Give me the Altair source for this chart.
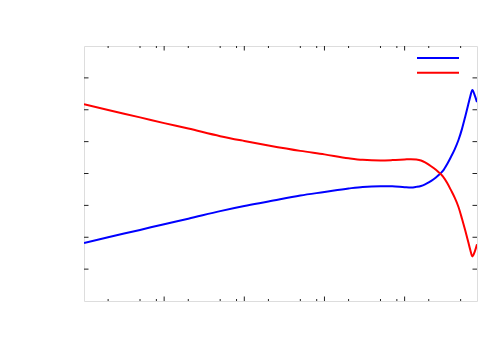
import altair as alt
import pandas as pd

# x positions (log axis) and the two series
x_vals = [1, 2, 5, 10, 20, 50, 100, 200, 500, 1000, 2000, 3000, 5000, 7000,
          10000, 12000, 14000, 16000, 18000, 20000, 23000, 26000, 30000,
          34000, 38000, 42000, 47000, 52000, 57000, 62000, 66000, 70000,
          75000, 80000]
blue_vals = [1.82, 2.00, 2.23, 2.41, 2.58, 2.82, 2.98, 3.12, 3.31, 3.42, 3.53,
             3.58, 3.60, 3.60, 3.57, 3.56, 3.58, 3.61, 3.66, 3.72, 3.82, 3.93,
             4.08, 4.30, 4.53, 4.75, 5.05, 5.40, 5.78, 6.15, 6.42, 6.62, 6.45,
             6.24]
red_vals = [6.17, 5.99, 5.76, 5.58, 5.41, 5.17, 5.02, 4.88, 4.71, 4.60, 4.48,
            4.43, 4.41, 4.42, 4.44, 4.45, 4.44, 4.41, 4.35, 4.28, 4.17, 4.06,
            3.91, 3.70, 3.47, 3.25, 2.95, 2.58, 2.22, 1.87, 1.60, 1.40, 1.55,
            1.78]
series_names = ["a", "b"]
series_colors = ["#0000ff", "#ff0000"]

x_major = [10, 100, 1000, 10000]
x_minor = [2, 5, 8, 20, 50, 80, 200, 500, 800, 2000, 5000, 8000, 20000, 50000]
y_ticks = [1, 2, 3, 4, 5, 6, 7]

W, H = 393, 255
XDOM = [1, 80000]
YDOM = [0, 8]

rows = []
for xv, b, r in zip(x_vals, blue_vals, red_vals):
    rows.append({"x": xv, "y": b, "s": series_names[0]})
    rows.append({"x": xv, "y": r, "s": series_names[1]})
df = pd.DataFrame(rows)

xs = alt.Scale(type="log", domain=XDOM, nice=False)
ys = alt.Scale(domain=YDOM, nice=False, zero=False)

lines = alt.Chart(df).mark_line(strokeWidth=2, clip=True, interpolate="monotone").encode(
    x=alt.X("x:Q", scale=xs, axis=None),
    y=alt.Y("y:Q", scale=ys, axis=None),
    color=alt.Color(
        "s:N",
        scale=alt.Scale(domain=series_names, range=series_colors),
        legend=alt.Legend(
            orient="none", legendX=346, legendY=4, title=None,
            symbolType="M-3,0H3", symbolSize=196, symbolStrokeWidth=2,
            labelExpr="''", labelFontSize=1, rowPadding=2.8, padding=0,
            symbolOffset=0, labelOffset=0,
        ),
    ),
)

tick_color = "#222222"
dmaj = pd.DataFrame({"x": x_major})
dmin = pd.DataFrame({"x": x_minor})
dy = pd.DataFrame({"y": y_ticks})

def xticks(d, length):
    bot = alt.Chart(d).mark_rule(color=tick_color, strokeWidth=1).encode(
        x=alt.X("x:Q", scale=xs, axis=None),
        y=alt.value(H), y2=alt.value(H - length))
    top = alt.Chart(d).mark_rule(color=tick_color, strokeWidth=1).encode(
        x=alt.X("x:Q", scale=xs, axis=None),
        y=alt.value(0), y2=alt.value(length))
    return [bot, top]

yl = alt.Chart(dy).mark_rule(color=tick_color, strokeWidth=1).encode(
    y=alt.Y("y:Q", scale=ys, axis=None), x=alt.value(0), x2=alt.value(4.5))
yr = alt.Chart(dy).mark_rule(color=tick_color, strokeWidth=1).encode(
    y=alt.Y("y:Q", scale=ys, axis=None), x=alt.value(W), x2=alt.value(W - 4.5))

chart = alt.layer(
    *xticks(dmaj, 4.5), *xticks(dmin, 2), yl, yr, lines
).properties(
    width=W, height=H,
    autosize=alt.AutoSizeParams(type="none"),
    padding={"left": 76, "top": 38, "right": 15, "bottom": 42},
).configure_view(
    stroke="#808080", strokeWidth=1.5
).configure(background="white")

chart.save("out.html", embed_options={"renderer": "svg", "actions": False})
